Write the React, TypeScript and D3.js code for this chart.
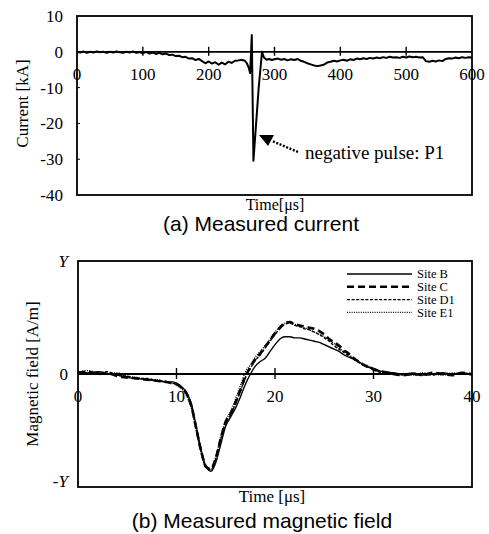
import React from "react";
import * as d3 from "d3";

// ---------- (a) Measured current ----------
const currentTime = [0,5,10,15,20,25,30,35,40,45,50,55,60,65,70,75,80,85,90,95,100,105,110,115,120,125,130,135,140,145,150,155,160,165,170,175,180,185,190,195,200,205,210,215,220,225,230,235,240,245,250,255,258,261,263,265.5,268,276,281,284,288,292,296,300,305,310,315,320,325,330,335,340,345,350,355,360,365,370,375,380,385,390,395,400,405,410,415,420,425,430,435,440,445,450,455,460,465,470,475,480,485,490,495,500,505,510,515,520,525,530,535,540,545,550,555,560,565,570,575,580,585,590,595,600];
const currentValue = [0,-0.2,0.1,-0.3,0,-0.2,0.1,-0.1,0,-0.3,0,-0.2,0.1,-0.1,-0.3,0,-0.2,0.1,-0.3,-0.1,-0.4,0,-0.5,-0.2,-0.6,-0.3,-0.7,-0.5,-0.9,-0.8,-1.2,-1.1,-1.5,-1.4,-1.9,-1.8,-2.3,-2.0,-2.6,-3.2,-2.7,-3.3,-2.9,-3.6,-3.0,-3.5,-2.8,-3.1,-2.5,-2.4,-2.2,-2.5,-3.2,-4.5,-6.0,4.7,-30.4,-10,0,-1.6,-2.2,-2.0,-2.3,-2.1,-1.9,-2.2,-2.0,-2.4,-2.1,-2.3,-2.0,-2.5,-2.8,-3.2,-3.5,-3.8,-4.0,-3.8,-3.6,-3.0,-2.8,-2.5,-2.7,-2.4,-2.2,-2.5,-2.1,-2.3,-1.9,-2.1,-1.8,-2.0,-1.7,-1.9,-1.6,-1.8,-1.5,-1.7,-1.4,-1.6,-1.5,-1.7,-1.4,-1.6,-1.3,-1.5,-1.4,-1.6,-1.5,-2.6,-2.8,-2.5,-2.7,-2.4,-2.6,-2.0,-1.8,-1.9,-1.6,-1.8,-1.5,-1.7,-1.5,-1.6];
const currentXTicks = [0, 100, 200, 300, 400, 500, 600];
const currentYTicks = [10, 0, -10, -20, -30, -40];

// ---------- (b) Measured magnetic field ----------
const fieldTime = [0,1,2,3,4,5,6,7,8,9,9.5,10,10.5,11,11.5,12,12.5,13,13.5,14,14.5,15,15.5,16,16.5,17,17.5,18,18.5,19,19.5,20,20.5,21,21.5,22,22.5,23,23.5,24,24.5,25,25.5,26,26.5,27,27.5,28,28.5,29,29.5,30,30.5,31,32,33,34,35,36,37,38,39,40];
const siteB = [0.02,0.01,0.02,0,-0.01,-0.03,-0.04,-0.05,-0.06,-0.07,-0.07,-0.08,-0.11,-0.16,-0.26,-0.46,-0.67,-0.82,-0.86,-0.78,-0.62,-0.46,-0.38,-0.3,-0.2,-0.09,0,0.07,0.11,0.14,0.2,0.26,0.31,0.33,0.33,0.32,0.32,0.31,0.3,0.29,0.28,0.26,0.24,0.22,0.2,0.17,0.15,0.13,0.11,0.08,0.06,0.05,0.03,0.02,0.01,0,0.01,-0.01,0,0.01,0,0.01,0];
const siteC = [0.01,0.02,0,0.01,-0.02,-0.03,-0.04,-0.05,-0.06,-0.07,-0.08,-0.09,-0.12,-0.17,-0.28,-0.48,-0.68,-0.82,-0.84,-0.74,-0.57,-0.42,-0.35,-0.25,-0.14,-0.02,0.06,0.13,0.18,0.24,0.3,0.36,0.41,0.45,0.46,0.44,0.43,0.42,0.41,0.4,0.38,0.35,0.31,0.28,0.25,0.21,0.18,0.14,0.11,0.08,0.06,0.04,0.03,0.02,0,-0.01,0,-0.01,0.01,0,-0.01,0.01,0];
const siteD1 = [0.02,0,0.01,0.02,-0.01,-0.02,-0.04,-0.04,-0.06,-0.07,-0.08,-0.09,-0.12,-0.18,-0.29,-0.49,-0.69,-0.83,-0.85,-0.75,-0.58,-0.43,-0.36,-0.26,-0.15,-0.03,0.05,0.12,0.17,0.23,0.29,0.35,0.4,0.44,0.45,0.43,0.42,0.4,0.39,0.37,0.35,0.32,0.29,0.25,0.22,0.19,0.16,0.13,0.1,0.08,0.06,0.04,0.02,0.01,0.01,-0.01,0,0,-0.01,0.01,0,0,-0.01];
const siteE1 = [0.01,0.03,0.01,0,0.01,-0.02,-0.03,-0.05,-0.05,-0.07,-0.08,-0.1,-0.13,-0.19,-0.3,-0.5,-0.7,-0.83,-0.84,-0.73,-0.55,-0.41,-0.33,-0.22,-0.1,0.02,0.08,0.15,0.2,0.25,0.31,0.37,0.42,0.45,0.45,0.44,0.42,0.41,0.39,0.37,0.35,0.33,0.3,0.27,0.23,0.2,0.17,0.14,0.11,0.09,0.07,0.05,0.03,0.02,0.01,0,-0.01,0.01,0,-0.01,0.01,0,0];
const fieldXTicks = [0, 10, 20, 30, 40];
const siteNames = ["Site B", "Site C", "Site D1", "Site E1"];

const SERIF = "'Liberation Serif', 'Times New Roman', serif";
const SANS = "'Liberation Sans', Arial, sans-serif";

export default function App() {
  const W = 489, H = 534;

  // top chart
  const x1 = d3.scaleLinear().domain([0, 600]).range([77, 472]);
  const y1 = d3.scaleLinear().domain([-40, 10]).range([195, 16]);
  const line1 = d3.line<number>()
    .x((_, i) => x1(currentTime[i]))
    .y((d) => y1(d));

  // bottom chart
  const x2 = d3.scaleLinear().domain([0, 40]).range([78, 472]);
  const y2 = d3.scaleLinear().domain([-1, 1]).range([487, 261]);
  const line2 = d3.line<number>()
    .x((_, i) => x2(fieldTime[i]))
    .y((d) => y2(d))
    .curve(d3.curveMonotoneX);

  const series = [siteB, siteC, siteD1, siteE1];
  const styles = [
    { w: 1.4, dash: undefined as string | undefined },
    { w: 2.6, dash: "7,4" },
    { w: 1.4, dash: "3,1.6" },
    { w: 1.4, dash: "1,1.3" },
  ];

  const y0a = y1(0);
  const y0b = y2(0);

  return (
    <svg width={W} height={H} style={{ position: "absolute", left: 0, top: 0, background: "#fff" }}>
      <rect x={0} y={0} width={W} height={H} fill="#fff" />

      {/* ---------- top chart ---------- */}
      <rect x={x1(0)} y={y1(10)} width={x1(600) - x1(0)} height={y1(-40) - y1(10)} fill="none" stroke="#000" strokeWidth={1.8} />
      <line x1={x1(0)} x2={x1(600)} y1={y0a} y2={y0a} stroke="#000" strokeWidth={1.8} />
      {currentXTicks.filter(t => t > 0 && t < 600).map(t => (
        <line key={"xt" + t} x1={x1(t)} x2={x1(t)} y1={y0a - 5} y2={y0a + 4} stroke="#000" strokeWidth={1.4} />
      ))}
      {currentYTicks.filter(t => t < 10 && t > -40).map(t => (
        <line key={"yt" + t} x1={x1(0)} x2={x1(0) + 3} y1={y1(t)} y2={y1(t)} stroke="#000" strokeWidth={1} />
      ))}
      <path d={line1(currentValue) || ""} fill="none" stroke="#000" strokeWidth={2} strokeLinejoin="round" />
      {currentXTicks.map(t => (
        <text key={"xl" + t} x={x1(t)} y={80} textAnchor="middle" fontFamily={SERIF} fontSize={17}>{t}</text>
      ))}
      {currentYTicks.map(t => (
        <text key={"yl" + t} x={63} y={y1(t)} dy="0.35em" textAnchor="end" fontFamily={SERIF} fontSize={17}>{t}</text>
      ))}
      <text transform={`translate(28,${(y1(10) + y1(-40)) / 2 - 2}) rotate(-90)`} textAnchor="middle" fontFamily={SERIF} fontSize={17}>Current [kA]</text>
      <text x={275} y={210} textAnchor="middle" fontFamily={SERIF} fontSize={16}>Time[μs]</text>
      <text x={261} y={231} textAnchor="middle" fontFamily={SANS} fontSize={21}>(a) Measured current</text>

      {/* annotation */}
      <line x1={298} y1={152} x2={272} y2={141} stroke="#000" strokeWidth={2.4} strokeDasharray="2,1.6" />
      <polygon points="259,135 274,135 268,146" fill="#000" />
      <text x={305} y={159} fontFamily={SERIF} fontSize={19}>negative pulse: P1</text>

      {/* ---------- bottom chart ---------- */}
      <rect x={x2(0)} y={y2(1)} width={x2(40) - x2(0)} height={y2(-1) - y2(1)} fill="none" stroke="#000" strokeWidth={1.8} />
      <line x1={x2(0)} x2={x2(40)} y1={y0b} y2={y0b} stroke="#000" strokeWidth={1.8} />
      {fieldXTicks.filter(t => t > 0 && t < 40).map(t => (
        <line key={"bt" + t} x1={x2(t)} x2={x2(t)} y1={y0b - 6} y2={y0b + 5} stroke="#000" strokeWidth={1.4} />
      ))}
      {series.map((s, i) => (
        <path key={siteNames[i]} d={line2(s) || ""} fill="none" stroke="#000" strokeWidth={styles[i].w} strokeDasharray={styles[i].dash} />
      ))}
      {fieldXTicks.map(t => (
        <text key={"bl" + t} x={x2(t)} y={402} textAnchor="middle" fontFamily={SERIF} fontSize={17}>{t}</text>
      ))}
      <text x={68} y={y2(1)} dy="0.35em" textAnchor="end" fontFamily={SERIF} fontSize={17} fontStyle="italic">Y</text>
      <text x={68} y={y2(0)} dy="0.35em" textAnchor="end" fontFamily={SERIF} fontSize={17}>0</text>
      <text x={68} y={y2(-1) - 6} dy="0.35em" textAnchor="end" fontFamily={SERIF} fontSize={17}>
        -<tspan fontStyle="italic">Y</tspan>
      </text>
      <text transform={`translate(38,${(y2(1) + y2(-1)) / 2}) rotate(-90)`} textAnchor="middle" fontFamily={SERIF} fontSize={17}>Magnetic field [A/m]</text>
      <text x={272} y={502} textAnchor="middle" fontFamily={SERIF} fontSize={17}>Time [μs]</text>
      <text x={262} y={528} textAnchor="middle" fontFamily={SANS} fontSize={21}>(b) Measured magnetic field</text>

      {/* legend */}
      {siteNames.map((n, i) => {
        const yy = 274 + i * 12.8;
        return (
          <g key={"lg" + n}>
            <line x1={347} x2={412} y1={yy} y2={yy} stroke="#000" strokeWidth={styles[i].w} strokeDasharray={styles[i].dash} />
            <text x={417} y={yy} dy="0.35em" fontFamily={SERIF} fontSize={12.5}>{n}</text>
          </g>
        );
      })}
    </svg>
  );
}
